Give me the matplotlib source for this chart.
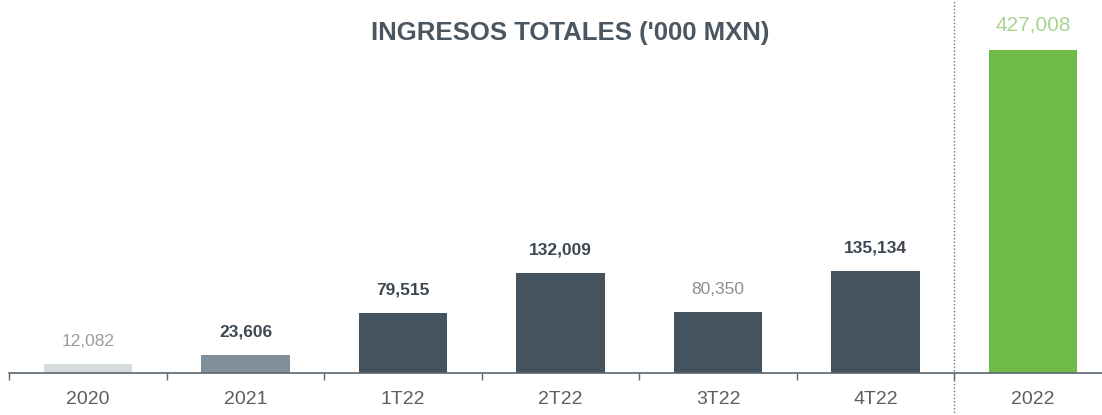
import matplotlib
matplotlib.use("Agg")
import matplotlib.pyplot as plt

categories = ["2020", "2021", "1T22", "2T22", "3T22", "4T22", "2022"]
values = [12082, 23606, 79515, 132009, 80350, 135134, 427008]
value_labels = ["12,082", "23,606", "79,515", "132,009", "80,350", "135,134", "427,008"]
bar_colors = ["#d5dadd", "#7f909c", "#45535e", "#45535e", "#45535e", "#45535e", "#70bb48"]
label_colors = ["#9a9ea2", "#3d4852", "#3d4852", "#3d4852", "#8a8e92", "#3d4852", "#a9d48f"]
label_weights = ["normal", "bold", "bold", "bold", "normal", "bold", "normal"]

W, H = 1102, 415
FONT = ["Liberation Sans", "DejaVu Sans"]
fig = plt.figure(figsize=(W / 100, H / 100), dpi=100)
left = 9.25 / W
ax = fig.add_axes([left, 42 / H, 1102.5 / W, 373 / H])

x = list(range(len(categories)))
ax.bar(x, values, width=0.56, color=bar_colors, zorder=2)
ax.set_xlim(-0.5, len(categories) - 0.5)
ax.set_ylim(0, 493000)

for xi, v, lab, c, w in zip(x, values, value_labels, label_colors, label_weights):
    fs = 15 if xi == len(categories) - 1 else 12.5
    ax.annotate(lab, (xi, v), xytext=(0, 11), textcoords="offset points",
                ha="center", va="bottom", fontsize=fs, color=c, fontweight=w,
                family=FONT)

for s in ["top", "right", "left"]:
    ax.spines[s].set_visible(False)
ax.spines["bottom"].set_color("#5a6670")
ax.spines["bottom"].set_linewidth(1.2)
ax.set_yticks([])

ax.set_xticks([i + 0.5 for i in range(-1, len(categories) - 1)], minor=False)
ax.set_xticklabels([])
ax.tick_params(axis="x", which="major", length=5, width=1.0, color="#5a6670", direction="out")
ax.set_xticks(x, minor=True)
ax.set_xticklabels(categories, minor=True, fontsize=14, color="#5a5f64", family=FONT)
ax.tick_params(axis="x", which="minor", length=0, pad=13)

ax.axvline(5.5, ymin=-0.12, ymax=1.0, color="#6a737a", linestyle=(0, (1, 1.5)),
           linewidth=1.0, clip_on=False, zorder=1)

fig.text(570 / W, 1 - 33 / H, "INGRESOS TOTALES ('000 MXN)", ha="center", va="center",
         fontsize=18.5, fontweight="bold", color="#4a5661", family=FONT)

fig.savefig("out.png", dpi=100)
